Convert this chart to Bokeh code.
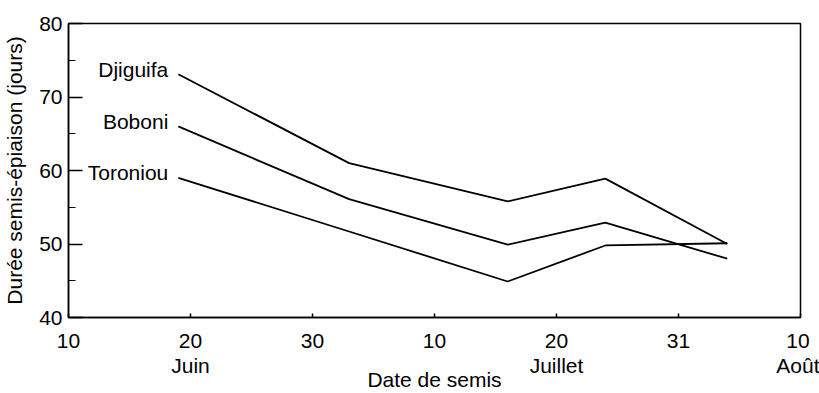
from bokeh.plotting import figure
from bokeh.models import ColumnDataSource, FixedTicker, Range1d
from bokeh.core.properties import value
from bokeh.embed import file_html
from bokeh.resources import INLINE

# Sowing dates expressed in dekads from 10 June (0 = 10 Juin, 6 = 10 Août)
sowing = [0.9, 2.3, 3.6, 4.4, 5.4]
djiguifa = [73.1, 61.0, 55.8, 58.9, 50.0]
boboni = [66.0, 56.1, 49.9, 52.9, 48.0]
toroniou = [59.0, 51.7, 44.9, 49.8, 50.1]
varieties = ["Djiguifa", "Boboni", "Toroniou"]

x_ticks = [0, 1, 2, 3, 4, 5, 6]
x_tick_labels = ["10", "20\nJuin", "30", "10", "20\nJuillet", "31", "10\nAoût"]
y_ticks = [40, 50, 60, 70, 80]
y_minor = [45, 55, 65, 75]

FONT = "Liberation Sans"

p = figure(width=819, height=393, output_backend="svg", toolbar_location=None,
           x_range=Range1d(0, 6), y_range=Range1d(40, 80),
           min_border_left=68, min_border_right=19, min_border_top=23,
           min_border_bottom=76)
p.background_fill_color = "white"
p.border_fill_color = "white"
p.outline_line_color = "black"
p.outline_line_width = 1.5
p.grid.visible = False

for series in (djiguifa, boboni, toroniou):
    p.line(sowing, series, line_color="black", line_width=1.8)

src = ColumnDataSource(dict(
    x=[sowing[0]] * 3,
    y=[djiguifa[0], boboni[0], toroniou[0]],
    t=varieties,
))
p.text(x="x", y="y", text="t", source=src, x_offset=-10, y_offset=-5,
       text_align="right", text_baseline="middle", text_font=value(FONT),
       text_font_size="21px", text_color="black")

xa = p.xaxis[0]
xa.ticker = FixedTicker(ticks=x_ticks, minor_ticks=[])
xa.major_label_overrides = {t: l for t, l in zip(x_ticks, x_tick_labels)}
xa.axis_label = "Date de semis"
xa.major_tick_in = 4
xa.major_tick_out = 0
xa.minor_tick_in = 0
xa.minor_tick_out = 0
xa.major_label_standoff = 11
xa.axis_label_standoff = -12
xa.major_label_text_line_height = 1.1

ya = p.yaxis[0]
ya.ticker = FixedTicker(ticks=y_ticks, minor_ticks=y_minor)
ya.axis_label = "Durée semis-épiaison (jours)"
ya.major_tick_in = 14
ya.major_tick_out = 0
ya.minor_tick_in = 7
ya.minor_tick_out = 0
ya.major_label_standoff = 6
ya.axis_label_standoff = 10

for ax in (xa, ya):
    ax.axis_line_color = "black"
    ax.axis_line_width = 1.5
    ax.major_tick_line_color = "black"
    ax.major_tick_line_width = 1.5
    ax.minor_tick_line_color = "black"
    ax.minor_tick_line_width = 1.2
    ax.major_label_text_font = FONT
    ax.major_label_text_font_size = "21px"
    ax.major_label_text_color = "black"
    ax.axis_label_text_font = FONT
    ax.axis_label_text_font_size = "21px"
    ax.axis_label_text_font_style = "normal"
    ax.axis_label_text_color = "black"

open("out.html", "w").write(file_html(p, INLINE))
